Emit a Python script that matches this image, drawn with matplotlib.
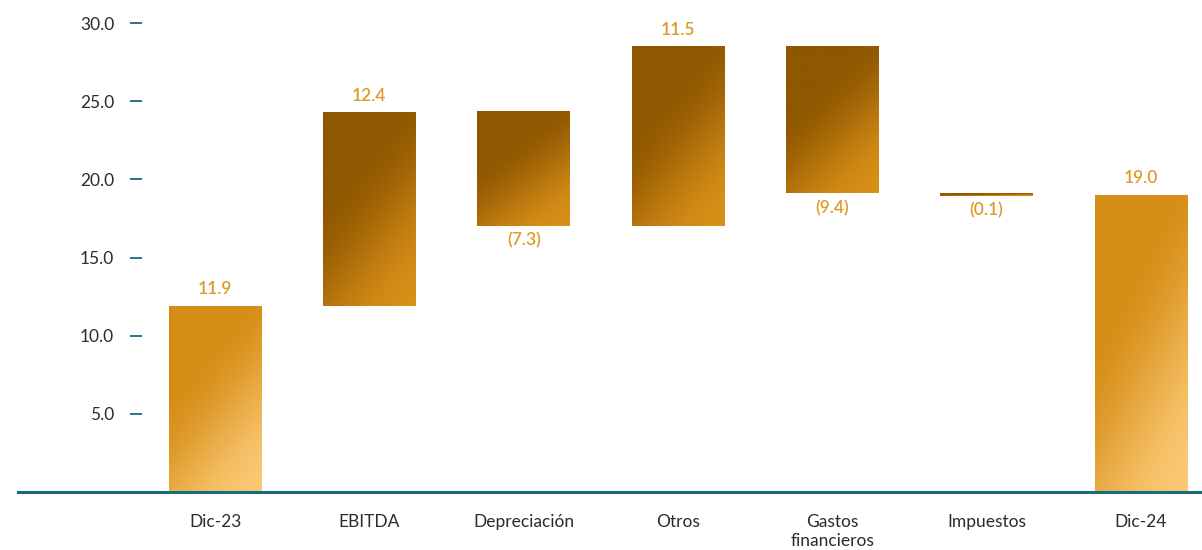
import numpy as np
import matplotlib.pyplot as plt
import matplotlib.transforms as mtransforms
from matplotlib.lines import Line2D
from matplotlib.colors import LinearSegmentedColormap

categorias = ['Dic-23', 'EBITDA', 'Depreciación', 'Otros', 'Gastos\nfinancieros', 'Impuestos', 'Dic-24']
valores = [11.9, 12.4, -7.3, 11.5, -9.4, -0.1, 19.0]
es_total = [True, False, False, False, False, False, True]
etiquetas = ['11.9', '12.4', '(7.3)', '11.5', '(9.4)', '(0.1)', '19.0']
yticks = [5, 10, 15, 20, 25, 30]

teal = '#1A6A80'
texto = '#2B2B2B'
naranja = '#E0992C'
cmap_total = LinearSegmentedColormap.from_list('tot', ['#D68D16', '#FAC872'])
cmap_delta = LinearSegmentedColormap.from_list('del', ['#8F5700', '#D88F18'])

plt.rcParams['font.family'] = ['Lato', 'DejaVu Sans']

fig = plt.figure(figsize=(12.02, 5.5), dpi=100)
ax = fig.add_axes([142 / 1202, 58 / 550, 1 - 142 / 1202, 1 - 58 / 550])

ancho = 0.6
nx, ny = 60, 160
xx, yy = np.meshgrid(np.linspace(0, 1, nx), np.linspace(0, 1, ny))


def barra_gradiente(x, y0, y1, cmap):
    # y=0 del grid es arriba, oscuro arriba-izquierda -> claro abajo-derecha
    t = np.clip((0.6 * xx + yy - 0.45) / 1.1, 0, 1)
    t = t * t * (3 - 2 * t)
    ax.imshow(t, cmap=cmap, vmin=0, vmax=1, aspect='auto',
              extent=(x - ancho / 2, x + ancho / 2, y0, y1), origin='upper',
              interpolation='bilinear', zorder=2)


acum = 0
for i, v in enumerate(valores):
    if es_total[i]:
        base, tope = 0, v
        acum = v
        cm = cmap_total
    else:
        base = acum
        acum = acum + v
        tope = acum
        cm = cmap_delta
    lo, hi = min(base, tope), max(base, tope)
    if hi - lo < 0.15:
        lo = hi - 0.15
    barra_gradiente(i, lo, hi, cm)
    if v >= 0:
        ax.text(i, hi + 0.55, etiquetas[i], ha='center', va='bottom', color=naranja,
                fontsize=12.5, fontweight='semibold')
    else:
        ax.text(i, lo - 0.4, etiquetas[i], ha='center', va='top', color=naranja,
                fontsize=12.5, fontweight='semibold')

ax.set_xlim(-(215 - 142) / 154, 6 + (1202 - 1141) / 154)
ax.set_ylim(0, 492 / 15.63)

for s in ax.spines.values():
    s.set_visible(False)

ax.set_yticks(yticks)
ax.set_yticklabels(['%.1f' % t for t in yticks])
ax.tick_params(axis='y', length=9, width=1.3, color=teal, pad=11, labelsize=12.5, labelcolor=texto)
ax.set_xticks(range(len(categorias)))
ax.set_xticklabels(categorias, linespacing=1.25)
ax.tick_params(axis='x', length=0, pad=16, labelsize=12.5, labelcolor=texto)

trans = mtransforms.blended_transform_factory(fig.transFigure, ax.transData)
fig.add_artist(Line2D([18 / 1202, 1], [0, 0], transform=trans, color=teal, lw=2.2))

fig.savefig('out.png', dpi=100)
